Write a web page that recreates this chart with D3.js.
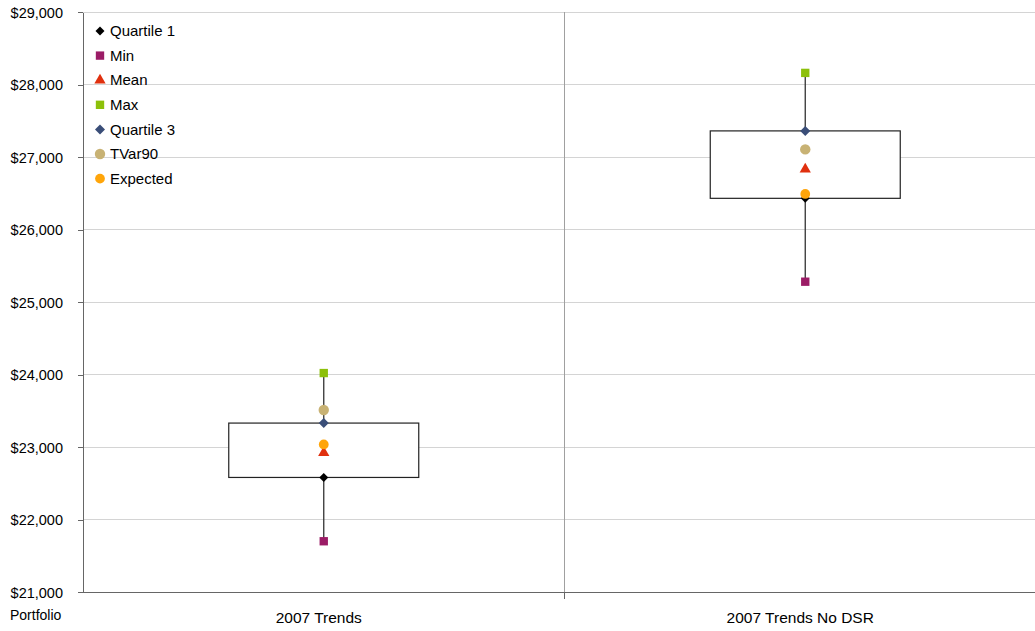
<!DOCTYPE html>
<html><head><meta charset="utf-8">
<script src="https://cdn.jsdelivr.net/npm/d3@7"></script>
<style>body{margin:0;background:#fff;}svg{display:block;font-family:"Liberation Sans",Arial,sans-serif;}</style>
</head><body>
<svg id="c" width="1035" height="631"></svg>
<script>
const categories = ["2007 Trends", "2007 Trends No DSR"];
const quartile1 = [22580, 26430];
const minVals   = [21700, 25280];
const meanVals  = [22920, 26830];
const maxVals   = [24020, 28160];
const quartile3 = [23330, 27360];
const tvar90    = [23510, 27105];
const expected  = [23035, 26490];
const yTicks = [21000, 22000, 23000, 24000, 25000, 26000, 27000, 28000, 29000];

const diamond = {draw(ctx, size) { const r = Math.sqrt(size / 2); ctx.moveTo(0, -r); ctx.lineTo(r, 0); ctx.lineTo(0, r); ctx.lineTo(-r, 0); ctx.closePath(); }};

const series = [
  {name: "Quartile 1", vals: quartile1, shape: diamond, color: "#000000", size: 40},
  {name: "Min", vals: minVals, shape: d3.symbolSquare, color: "#9B1C66", size: 70},
  {name: "Mean", vals: meanVals, shape: d3.symbolTriangle, color: "#E0300E", size: 55},
  {name: "Max", vals: maxVals, shape: d3.symbolSquare, color: "#8CC00A", size: 70},
  {name: "Quartile 3", vals: quartile3, shape: diamond, color: "#3A4E78", size: 50},
  {name: "TVar90", vals: tvar90, shape: d3.symbolCircle, color: "#C8B274", size: 85},
  {name: "Expected", vals: expected, shape: d3.symbolCircle, color: "#FFA50A", size: 75}
];

const svg = d3.select("#c");
const pLeft = 83, pRight = 1046, pTop = 12, pBottom = 592;
const x = d3.scaleBand().domain(categories).range([pLeft, pRight]);
const y = d3.scaleLinear().domain([21000, 29000]).range([pBottom, pTop]);

// gridlines
svg.append("g").selectAll("line").data(yTicks.slice(1)).join("line")
  .attr("x1", pLeft).attr("x2", pRight).attr("y1", d => y(d)).attr("y2", d => y(d))
  .attr("stroke", "#d4d4d4").attr("stroke-width", 1).attr("shape-rendering", "crispEdges");
svg.append("g").selectAll("line").data(categories.slice(1)).join("line")
  .attr("x1", d => x(d)).attr("x2", d => x(d)).attr("y1", pTop).attr("y2", pBottom)
  .attr("stroke", "#a0a0a0").attr("stroke-width", 1).attr("shape-rendering", "crispEdges");

// axes
const yAxis = d3.axisLeft(y).tickValues(yTicks).tickSize(5).tickSizeOuter(0)
  .tickFormat(d => "$" + d3.format(",")(d));
const gy = svg.append("g").attr("transform", `translate(${pLeft},0)`).call(yAxis);
gy.select(".domain").attr("stroke", "#666").attr("shape-rendering", "crispEdges");
gy.selectAll(".tick line").attr("stroke", "#666").attr("shape-rendering", "crispEdges");
gy.selectAll("text").attr("font-size", 14.5).attr("fill", "#000").attr("x", -20).attr("dy", "0.35em")
  .attr("font-family", "Liberation Sans, Arial, sans-serif");

const gx = svg.append("g").attr("transform", `translate(0,${pBottom})`);
gx.append("line").attr("x1", pLeft).attr("x2", pRight).attr("stroke", "#666").attr("shape-rendering", "crispEdges");
gx.selectAll(".tk").data(categories.slice(1)).join("line").attr("class", "tk")
  .attr("x1", d => x(d)).attr("x2", d => x(d)).attr("y1", 0).attr("y2", 7)
  .attr("stroke", "#666").attr("shape-rendering", "crispEdges");
gx.selectAll("text").data(categories).join("text")
  .attr("x", d => x(d) + x.bandwidth() / 2 - 5).attr("y", 31).attr("text-anchor", "middle")
  .attr("font-size", 15.5).attr("fill", "#000").text(d => d);
svg.append("text").attr("x", 10).attr("y", 620).attr("font-size", 14).attr("fill", "#000").text("Portfolio");

// boxes
const boxW = 190;
const boxes = svg.append("g");
categories.forEach((c, i) => {
  const cx = x(c) + x.bandwidth() / 2;
  boxes.append("line").attr("x1", cx).attr("x2", cx).attr("y1", y(maxVals[i])).attr("y2", y(minVals[i]))
    .attr("stroke", "#333").attr("stroke-width", 1.3);
  boxes.append("rect").attr("x", cx - boxW / 2).attr("width", boxW)
    .attr("y", y(quartile3[i])).attr("height", y(quartile1[i]) - y(quartile3[i]))
    .attr("fill", "#fff").attr("stroke", "#222").attr("stroke-width", 1.2);
});

// markers
const order = [1, 3, 0, 4, 2, 5, 6];
order.forEach(si => {
  const s = series[si];
  svg.append("g").selectAll("path").data(categories).join("path")
    .attr("d", d3.symbol().type(s.shape).size(s.size))
    .attr("transform", (c, i) => `translate(${x(c) + x.bandwidth() / 2},${y(s.vals[i])})`)
    .attr("fill", s.color);
});

// legend
const lg = svg.append("g").attr("transform", "translate(100,31)");
series.forEach((s, i) => {
  const g = lg.append("g").attr("transform", `translate(0,${i * 24.6})`);
  g.append("path").attr("d", d3.symbol().type(s.shape).size(s.size)).attr("fill", s.color);
  g.append("text").attr("x", 10).attr("y", 0).attr("dy", "0.35em").attr("font-size", 15).attr("fill", "#000").text(s.name);
});
</script>
</body></html>
